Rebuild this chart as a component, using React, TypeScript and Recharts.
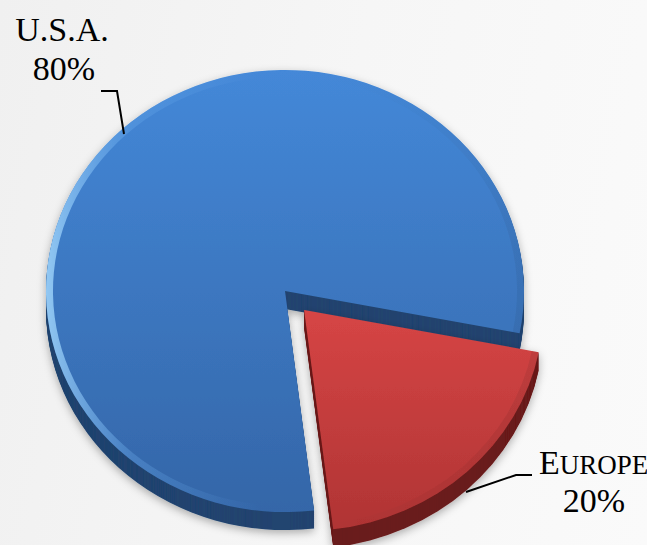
import React from 'react';
import { PieChart, Pie, Sector } from 'recharts';

const regionNames = ['U.S.A.', 'Europe'];
const regionShares = [80, 20];
const topColors = [['#4488d8', '#3466a8'], ['#d64545', '#b03434']];
const sideColors = ['#21446f', '#6a1c1c'];
const explodeBy = [0, 28];

const data = regionNames.map((name, i) => ({ name, value: regionShares[i] }));

const SY = 0.925;
const DEPTH = 18;

const renderSlice = (props: any) => {
  const { cx, cy, innerRadius, outerRadius, startAngle, endAngle, midAngle, index } = props;
  const i = index ?? (props.name === 'Europe' ? 1 : 0);
  const ex = explodeBy[i] || 0;
  const ox = ex * Math.cos((-midAngle * Math.PI) / 180);
  const oy = ex * Math.sin((-midAngle * Math.PI) / 180) * SY;
  const scale = `translate(0 ${cy}) scale(1 ${SY}) translate(0 ${-cy})`;
  const layers = [];
  for (let d = DEPTH; d >= 1; d--) {
    layers.push(
      <g key={d} transform={`translate(${ox} ${oy + d})`}>
        <g transform={scale}>
          <Sector cx={cx} cy={cy} innerRadius={innerRadius} outerRadius={outerRadius}
            startAngle={startAngle} endAngle={endAngle} fill={sideColors[i]} stroke="none" />
        </g>
      </g>
    );
  }
  return (
    <g>
      <defs>
        <linearGradient id={`top${i}`} x1="0" y1="0" x2="0" y2="1">
          <stop offset="0%" stopColor={topColors[i][0]} />
          <stop offset="100%" stopColor={topColors[i][1]} />
        </linearGradient>
        <linearGradient id="rimBlue" x1="0" y1="0" x2="1" y2="0">
          <stop offset="0%" stopColor="#a8dcff" stopOpacity={0.8} />
          <stop offset="18%" stopColor="#6fb0f0" stopOpacity={0.3} />
          <stop offset="45%" stopColor="#6fb0f0" stopOpacity={0.0} />
          <stop offset="100%" stopColor="#000000" stopOpacity={0.06} />
        </linearGradient>
        <linearGradient id="rimRed" x1="0" y1="0" x2="1" y2="0">
          <stop offset="0%" stopColor="#000000" stopOpacity={0} />
          <stop offset="100%" stopColor="#000000" stopOpacity={0.08} />
        </linearGradient>
        <filter id={`sh${i}`} x="-20%" y="-20%" width="140%" height="140%">
          <feDropShadow dx="0" dy="3" stdDeviation="4" floodColor="#000" floodOpacity="0.3" />
        </filter>
      </defs>
      <g filter={`url(#sh${i})`}>
        {layers}
        <g transform={`translate(${ox} ${oy})`}>
          <g transform={scale}>
            <Sector cx={cx} cy={cy} innerRadius={innerRadius} outerRadius={outerRadius}
              startAngle={startAngle} endAngle={endAngle} fill={`url(#top${i})`} stroke="none" />
            <Sector cx={cx} cy={cy} innerRadius={outerRadius - 7} outerRadius={outerRadius}
              startAngle={startAngle} endAngle={endAngle} fill={i === 0 ? 'url(#rimBlue)' : 'url(#rimRed)'} stroke="none" />
          </g>
        </g>
      </g>
    </g>
  );
};

const renderLabel = (props: any) => {
  const { cx, cy, name, percent } = props;
  const pct = `${Math.round(percent * 100)}%`;
  const font = '"Liberation Serif", "Times New Roman", serif';
  if (name === 'U.S.A.') {
    return (
      <g>
        <text x={cx - 223} y={cy - 250} textAnchor="middle" fontFamily={font} fontSize={34} fill="#000">{name}</text>
        <text x={cx - 221} y={cy - 211} textAnchor="middle" fontFamily={font} fontSize={34} fill="#000">{pct}</text>
        <polyline points={`${cx - 184},${cy - 200} ${cx - 168},${cy - 200} ${cx - 161},${cy - 157}`}
          fill="none" stroke="#000" strokeWidth={2} />
      </g>
    );
  }
  return (
    <g>
      <text x={cx + 254} y={cy + 183} fontFamily={font} fontSize={34} fill="#000">
        E<tspan fontSize={27}>UROPE</tspan>
      </text>
      <text x={cx + 309} y={cy + 221} textAnchor="middle" fontFamily={font} fontSize={34} fill="#000">{pct}</text>
      <polyline points={`${cx + 181},${cy + 201} ${cx + 231},${cy + 184} ${cx + 247},${cy + 184}`}
        fill="none" stroke="#000" strokeWidth={2} />
    </g>
  );
};

export default function App() {
  return (
    <div style={{ position: 'absolute', left: 0, top: 0, width: 647, height: 545,
      background: 'linear-gradient(100deg, #f0f0f0 0%, #f6f6f6 50%, #fafafa 100%)' }}>
      <PieChart width={647} height={545}>
        <Pie data={data} dataKey="value" nameKey="name" cx={280} cy={286}
          innerRadius={0} outerRadius={239} startAngle={-83} endAngle={-443}
          stroke="none" isAnimationActive={false}
          shape={renderSlice} activeShape={renderSlice} inactiveShape={renderSlice}
          label={renderLabel} labelLine={false} />
      </PieChart>
    </div>
  );
}
